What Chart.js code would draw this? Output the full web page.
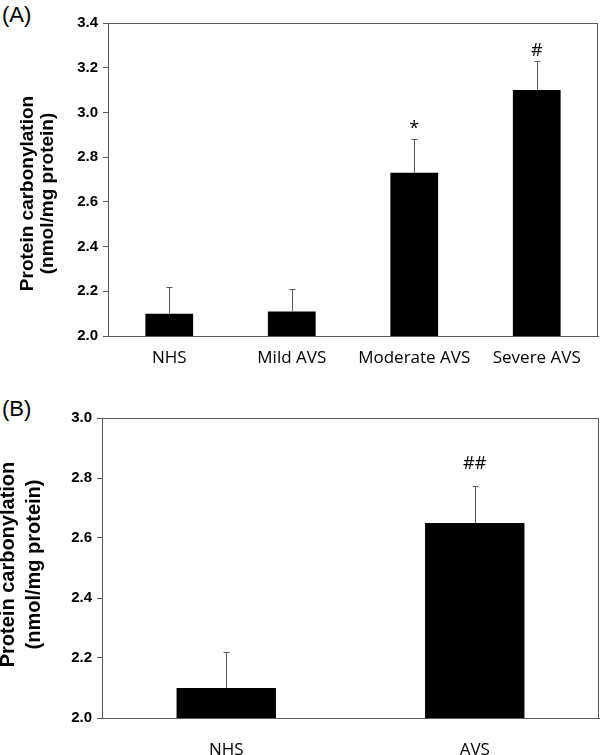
<!DOCTYPE html>
<html>
<head>
<meta charset="utf-8">
<script src="https://cdn.jsdelivr.net/npm/chart.js@4.4.1/dist/chart.umd.min.js"></script>
<style>
    body { margin: 0; background: #fff; }
    #wrap { position: relative; width: 600px; height: 755px; background: #fff; }
    .panel-label { position: absolute; left: 2px; font: 22px "Liberation Sans", Arial, sans-serif; color: #000; line-height: 1; }
    canvas { position: absolute; left: 0; }
</style>
</head>
<body>
<div id="wrap">
    <div class="panel-label" style="top: 4px;">(A)</div>
    <div class="panel-label" style="top: 398px;">(B)</div>
    <canvas id="chartA" width="600" height="375" style="top: 0;"></canvas>
    <canvas id="chartB" width="600" height="380" style="top: 375px;"></canvas>
</div>
<script>
"use strict";

// Panel A data
var categoriesA = ['NHS', 'Mild AVS', 'Moderate AVS', 'Severe AVS'];
var meansA = [2.10, 2.11, 2.73, 3.10];
var errorsA = [0.12, 0.10, 0.15, 0.13];
var marksA = ['', '', '*', '#'];

// Panel B data
var categoriesB = ['NHS', 'AVS'];
var meansB = [2.10, 2.65];
var errorsB = [0.12, 0.125];
var marksB = ['', '##'];

var yTitle = ['Protein carbonylation', '(nmol/mg protein)'];
var axisColor = '#595959';

// draws upper error bars + significance marks
var errorBarsPlugin = {
    id: 'errorBars',
    afterDatasetsDraw: function (chart, args, opts) {
        var ctx = chart.ctx;
        var yScale = chart.scales.y;
        var meta = chart.getDatasetMeta(0);
        ctx.save();
        ctx.strokeStyle = axisColor;
        ctx.lineWidth = 1;
        meta.data.forEach(function (bar, i) {
            var x = Math.round(bar.x) + 0.5;
            var top = Math.round(yScale.getPixelForValue(opts.means[i] + opts.errors[i])) + 0.5;
            ctx.beginPath();
            ctx.moveTo(x, bar.y);
            ctx.lineTo(x, top);
            ctx.moveTo(x - 3, top);
            ctx.lineTo(x + 3, top);
            ctx.stroke();
            if (opts.marks[i]) {
                ctx.fillStyle = '#000';
                ctx.font = '18px "Open Sans", sans-serif';
                ctx.textAlign = 'center';
                ctx.textBaseline = 'alphabetic';
                ctx.fillText(opts.marks[i], bar.x, top - opts.gap);
            }
        });
        ctx.restore();
    }
};

// closed frame around the plot area
var framePlugin = {
    id: 'frame',
    afterDraw: function (chart) {
        var a = chart.chartArea;
        var ctx = chart.ctx;
        ctx.save();
        ctx.strokeStyle = axisColor;
        ctx.lineWidth = 1;
        ctx.strokeRect(Math.round(a.left) + 0.5, Math.round(a.top) + 0.5,
            Math.round(a.right - a.left) - 1, Math.round(a.bottom - a.top));
        ctx.restore();
    }
};

// two-line rotated y-axis title, a bit off-centre like the original
var yTitlePlugin = {
    id: 'yTitle',
    afterDraw: function (chart, args, o) {
        var a = chart.chartArea;
        var ctx = chart.ctx;
        var cy = (a.top + a.bottom) / 2 + o.shift;
        ctx.save();
        ctx.fillStyle = '#000';
        ctx.font = 'bold ' + o.size + 'px "Liberation Sans", Arial, sans-serif';
        ctx.textAlign = 'center';
        ctx.textBaseline = 'alphabetic';
        o.lines.forEach(function (t, i) {
            ctx.save();
            ctx.translate(o.baselines[i], cy);
            ctx.rotate(-Math.PI / 2);
            ctx.fillText(t, 0, 0);
            ctx.restore();
        });
        ctx.restore();
    }
};

function makeChart(id, cfg) {
    var ctx = document.getElementById(id).getContext('2d');
    return new Chart(ctx, {
        type: 'bar',
        data: {
            labels: cfg.labels,
            datasets: [{
                data: cfg.means,
                backgroundColor: '#000',
                borderWidth: 0,
                barPercentage: cfg.barPct,
                categoryPercentage: 1
            }]
        },
        options: {
            responsive: false,
            animation: false,
            layout: { padding: cfg.padding },
            plugins: {
                legend: { display: false },
                tooltip: { enabled: false },
                errorBars: { means: cfg.means, errors: cfg.errors, marks: cfg.marks, gap: cfg.gap },
                yTitle: { lines: yTitle, size: cfg.titleSize, baselines: cfg.titleX, shift: cfg.titleShift }
            },
            scales: {
                x: {
                    grid: { display: false, drawTicks: false },
                    border: { display: true, color: axisColor },
                    ticks: {
                        color: '#000',
                        padding: cfg.xPad,
                        maxRotation: 0,
                        font: { family: '"Open Sans", sans-serif', size: 17 }
                    },
                    afterFit: function (scale) { scale.height = cfg.xHeight; }
                },
                y: {
                    min: cfg.yMin,
                    max: cfg.yMax,
                    grid: { display: true, drawOnChartArea: false, drawTicks: true, tickLength: 5, color: axisColor },
                    border: { display: true, color: axisColor },
                    ticks: {
                        stepSize: 0.2,
                        color: '#000',
                        padding: 5,
                        font: { family: '"Liberation Sans", Arial, sans-serif', size: 15, weight: 'bold' },
                        callback: function (v) { return Number(v).toFixed(1); }
                    },
                    afterFit: function (scale) { scale.width = cfg.yWidth; }
                }
            }
        },
        plugins: [errorBarsPlugin, framePlugin, yTitlePlugin]
    });
}

makeChart('chartA', {
    labels: categoriesA, means: meansA, errors: errorsA, marks: marksA,
    barPct: 0.39, yMin: 2.0, yMax: 3.4, gap: 6,
    padding: { top: 23, right: 2, left: 0, bottom: 0 },
    xHeight: 39, xPad: 12, yWidth: 108,
    titleSize: 19, titleX: [33, 53], titleShift: 14
});

makeChart('chartB', {
    labels: categoriesB, means: meansB, errors: errorsB, marks: marksB,
    barPct: 0.40, yMin: 2.0, yMax: 3.0, gap: 18,
    padding: { top: 43, right: 1, left: 0, bottom: 0 },
    xHeight: 37, xPad: 22, yWidth: 102,
    titleSize: 20, titleX: [14, 39.5], titleShift: -3.5
});
</script>
</body>
</html>
